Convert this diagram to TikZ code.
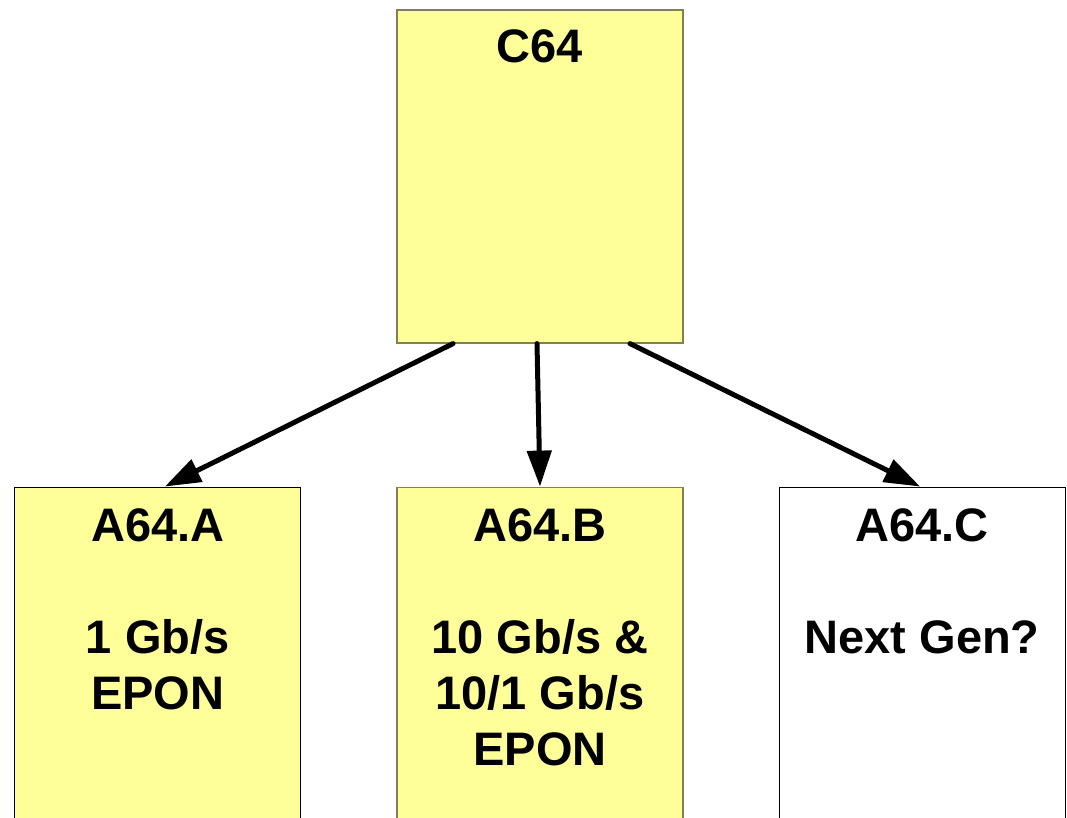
\documentclass[tikz,border=0pt]{standalone}
\usepackage{fontspec}
\setmainfont{Liberation Sans}
\usetikzlibrary{positioning,arrows.meta}
\definecolor{boxyellow}{RGB}{255,255,153}
\definecolor{boxolive}{RGB}{128,128,80}
\tikzstyle{spec} = [rectangle, minimum width=286pt, minimum height=333pt, draw=boxolive, line width=1.2pt, fill=boxyellow]
\tikzstyle{variant} = [rectangle, minimum width=286pt, minimum height=420pt, draw=black, line width=1.2pt, fill=boxyellow]
\tikzstyle{boxtext} = [inner sep=0pt, align=center, font=\bfseries\fontsize{47}{56}\selectfont]
\tikzstyle{arrow} = [line width=5pt, line cap=round, -{Triangle[length=36pt,width=24pt]}]

\begin{document}
\begin{tikzpicture}[x=1pt,y=1pt,node distance=95pt]
\clip (0,0) rectangle (1067,-817);
 \node (c64) [spec] at (540,-176.5) {};
 \node (b) [variant,draw=boxolive,below=143pt of c64] {};
 \node (a) [variant,left=of b] {};
 \node (c) [variant,fill=white,right=of b] {};
 \node (c64text) [boxtext,below=20pt of c64.north] {C64};
 \node (atext) [boxtext,below=22pt of a.north] {A64.A\\[56pt]1 Gb/s\\EPON};
 \node (btext) [boxtext,below=22pt of b.north] {A64.B\\[56pt]10 Gb/s \&\\10/1 Gb/s\\EPON};
 \node (ctext) [boxtext,below=22pt of c.north] {A64.C\\[56pt]Next Gen?};
\draw [arrow] ([xshift=-87pt]c64.south) -- ([xshift=7pt]a.north);
\draw [arrow] ([xshift=-3pt]c64.south) -- (b.north);
\draw [arrow] ([xshift=90pt]c64.south) -- ([xshift=-2pt]c.north);
\end{tikzpicture}
\end{document}
